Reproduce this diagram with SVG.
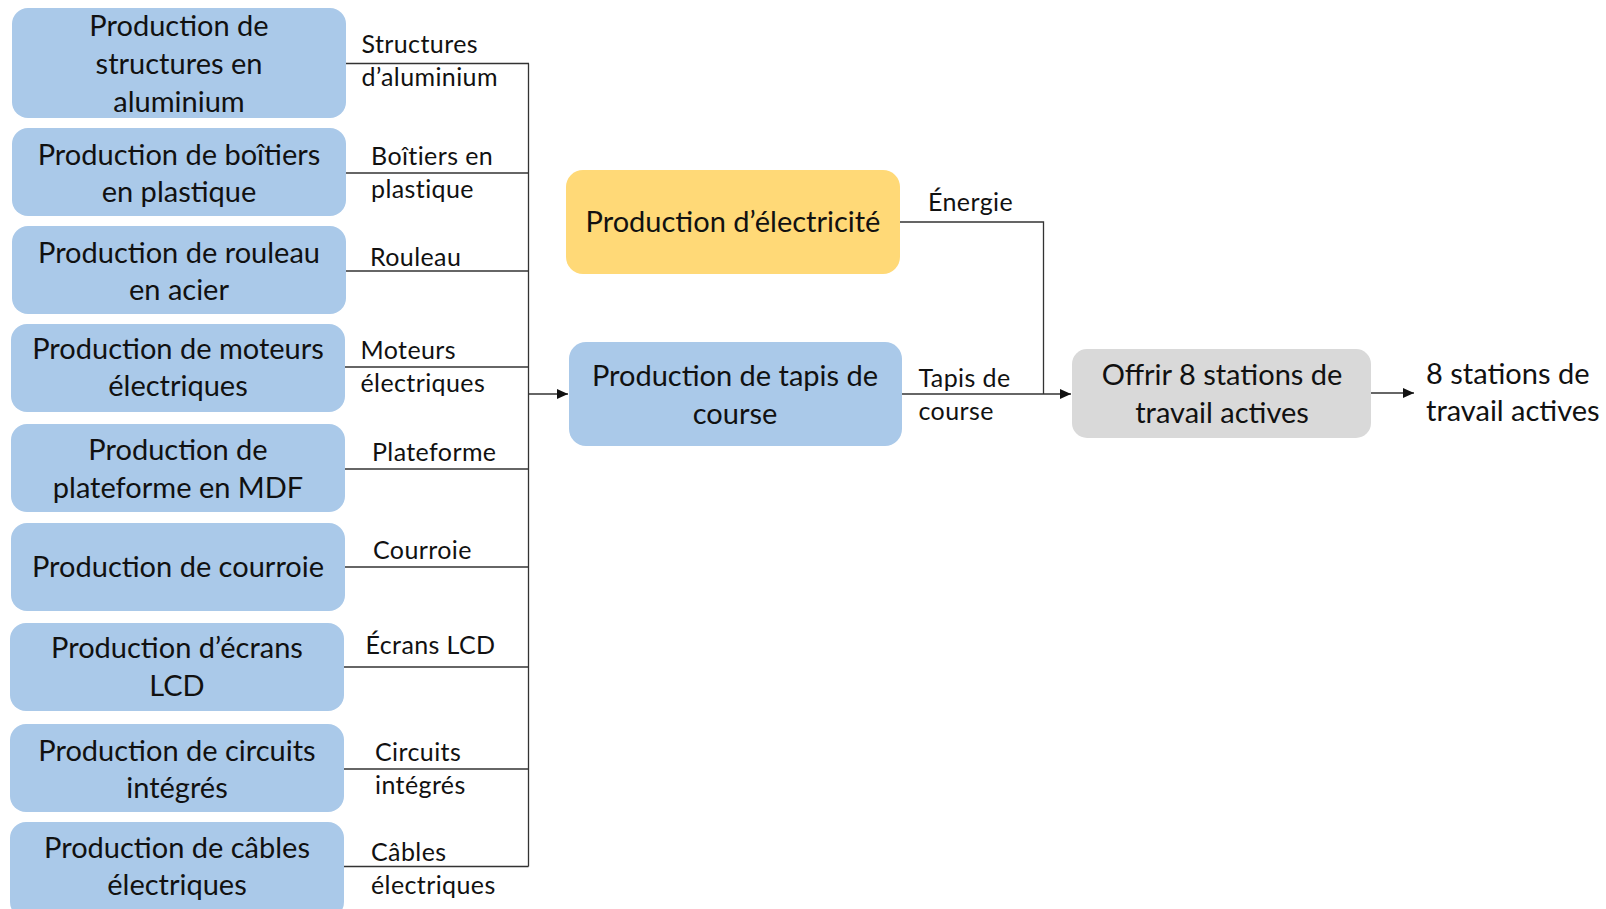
<svg xmlns="http://www.w3.org/2000/svg" width="1606" height="909" viewBox="0 0 1606 909">
  <defs>
    <style>
      .box-blue { fill: #AAC9E9; }
      .box-yellow { fill: #FFD977; }
      .box-gray { fill: #D9D9D9; }
      .t { font-family: Lato, "Liberation Sans", sans-serif; font-size: 29px; fill: #111; text-anchor: middle; }
      .lbl { font-family: Lato, "Liberation Sans", sans-serif; font-size: 25px; fill: #111; letter-spacing: 0.4px; }
      .out { font-family: Lato, "Liberation Sans", sans-serif; font-size: 29px; fill: #111; }
      .wire { fill: none; stroke: #333; stroke-width: 1.3; }
    </style>
    <marker id="arrow" markerUnits="userSpaceOnUse" markerWidth="11" markerHeight="10" refX="11" refY="5" orient="auto">
      <path d="M0,0 L11,5 L0,10 z" fill="#111"/>
    </marker>
  </defs>
  <rect width="1606" height="909" fill="#fff"/>

  <!-- supplier nodes -->
  <g id="n-aluminium">
    <rect class="box-blue" x="12" y="8" width="334" height="110" rx="16"/>
    <text class="t" x="179" y="35.5">Production de</text>
    <text class="t" x="179" y="73.5">structures en</text>
    <text class="t" x="179" y="111.5">aluminium</text>
  </g>
  <g id="n-boitiers">
    <rect class="box-blue" x="12" y="128" width="334" height="88" rx="16"/>
    <text class="t" x="179" y="165">Production de boîtiers</text>
    <text class="t" x="179" y="201.5">en plastique</text>
  </g>
  <g id="n-rouleau">
    <rect class="box-blue" x="12" y="226" width="334" height="88" rx="16"/>
    <text class="t" x="179" y="263">Production de rouleau</text>
    <text class="t" x="179" y="300">en acier</text>
  </g>
  <g id="n-moteurs">
    <rect class="box-blue" x="11" y="324" width="334" height="88" rx="16"/>
    <text class="t" x="178" y="359">Production de moteurs</text>
    <text class="t" x="178" y="396">électriques</text>
  </g>
  <g id="n-plateforme">
    <rect class="box-blue" x="11" y="424" width="334" height="88" rx="16"/>
    <text class="t" x="178" y="459.5">Production de</text>
    <text class="t" x="178" y="497.5">plateforme en MDF</text>
  </g>
  <g id="n-courroie">
    <rect class="box-blue" x="11" y="523" width="334" height="88" rx="16"/>
    <text class="t" x="178" y="577">Production de courroie</text>
  </g>
  <g id="n-ecrans">
    <rect class="box-blue" x="10" y="623" width="334" height="88" rx="16"/>
    <text class="t" x="177" y="658">Production d’écrans</text>
    <text class="t" x="177" y="696">LCD</text>
  </g>
  <g id="n-circuits">
    <rect class="box-blue" x="10" y="724" width="334" height="88" rx="16"/>
    <text class="t" x="177" y="761">Production de circuits</text>
    <text class="t" x="177" y="797.5">intégrés</text>
  </g>
  <g id="n-cables">
    <rect class="box-blue" x="10" y="822" width="334" height="96" rx="16"/>
    <text class="t" x="177" y="858">Production de câbles</text>
    <text class="t" x="177" y="895">électriques</text>
  </g>

  <!-- central nodes -->
  <g id="n-electricite">
    <rect class="box-yellow" x="566" y="170" width="334" height="104" rx="17"/>
    <text class="t" x="733" y="232">Production d’électricité</text>
  </g>
  <g id="n-tapis">
    <rect class="box-blue" x="569" y="342" width="333" height="104" rx="17"/>
    <text class="t" x="735" y="386">Production de tapis de</text>
    <text class="t" x="735" y="424">course</text>
  </g>
  <g id="n-stations">
    <rect class="box-gray" x="1072" y="349" width="299" height="89" rx="15"/>
    <text class="t" x="1222" y="385">Offrir 8 stations de</text>
    <text class="t" x="1222" y="423">travail actives</text>
  </g>
  <g id="n-sortie">
    <text class="out" x="1426" y="384">8 stations de</text>
    <text class="out" x="1426" y="421">travail actives</text>
  </g>

  <!-- connectors -->
  <g id="connectors">
    <path class="wire" d="M346,63.5 H529"/>
    <path class="wire" d="M346,173 H529"/>
    <path class="wire" d="M346,271 H529"/>
    <path class="wire" d="M345,367 H529"/>
    <path class="wire" d="M345,469 H529"/>
    <path class="wire" d="M345,567 H529"/>
    <path class="wire" d="M344,667 H529"/>
    <path class="wire" d="M344,769 H529"/>
    <path class="wire" d="M344,866.5 H528.5"/>
    <path class="wire" d="M528.5,63.5 V866.5"/>
    <path class="wire" d="M528.5,394 H568" marker-end="url(#arrow)"/>
    <path class="wire" d="M900,222 H1043.5 V394"/>
    <path class="wire" d="M902,394 H1071" marker-end="url(#arrow)"/>
    <path class="wire" d="M1371,393 H1414" marker-end="url(#arrow)"/>

    <text class="lbl" x="361.5" y="53">Structures</text>
    <text class="lbl" x="361.5" y="86">d’aluminium</text>
    <text class="lbl" x="371" y="165">Boîtiers en</text>
    <text class="lbl" x="371" y="198">plastique</text>
    <text class="lbl" x="370" y="266">Rouleau</text>
    <text class="lbl" x="360.5" y="359">Moteurs</text>
    <text class="lbl" x="360.5" y="392">électriques</text>
    <text class="lbl" x="372" y="461">Plateforme</text>
    <text class="lbl" x="373" y="559">Courroie</text>
    <text class="lbl" x="365.5" y="654">Écrans LCD</text>
    <text class="lbl" x="375" y="761">Circuits</text>
    <text class="lbl" x="375" y="794">intégrés</text>
    <text class="lbl" x="371" y="861">Câbles</text>
    <text class="lbl" x="371" y="894">électriques</text>
    <text class="lbl" x="928" y="211">Énergie</text>
    <text class="lbl" x="918.5" y="387">Tapis de</text>
    <text class="lbl" x="918.5" y="420">course</text>
  </g>
</svg>
